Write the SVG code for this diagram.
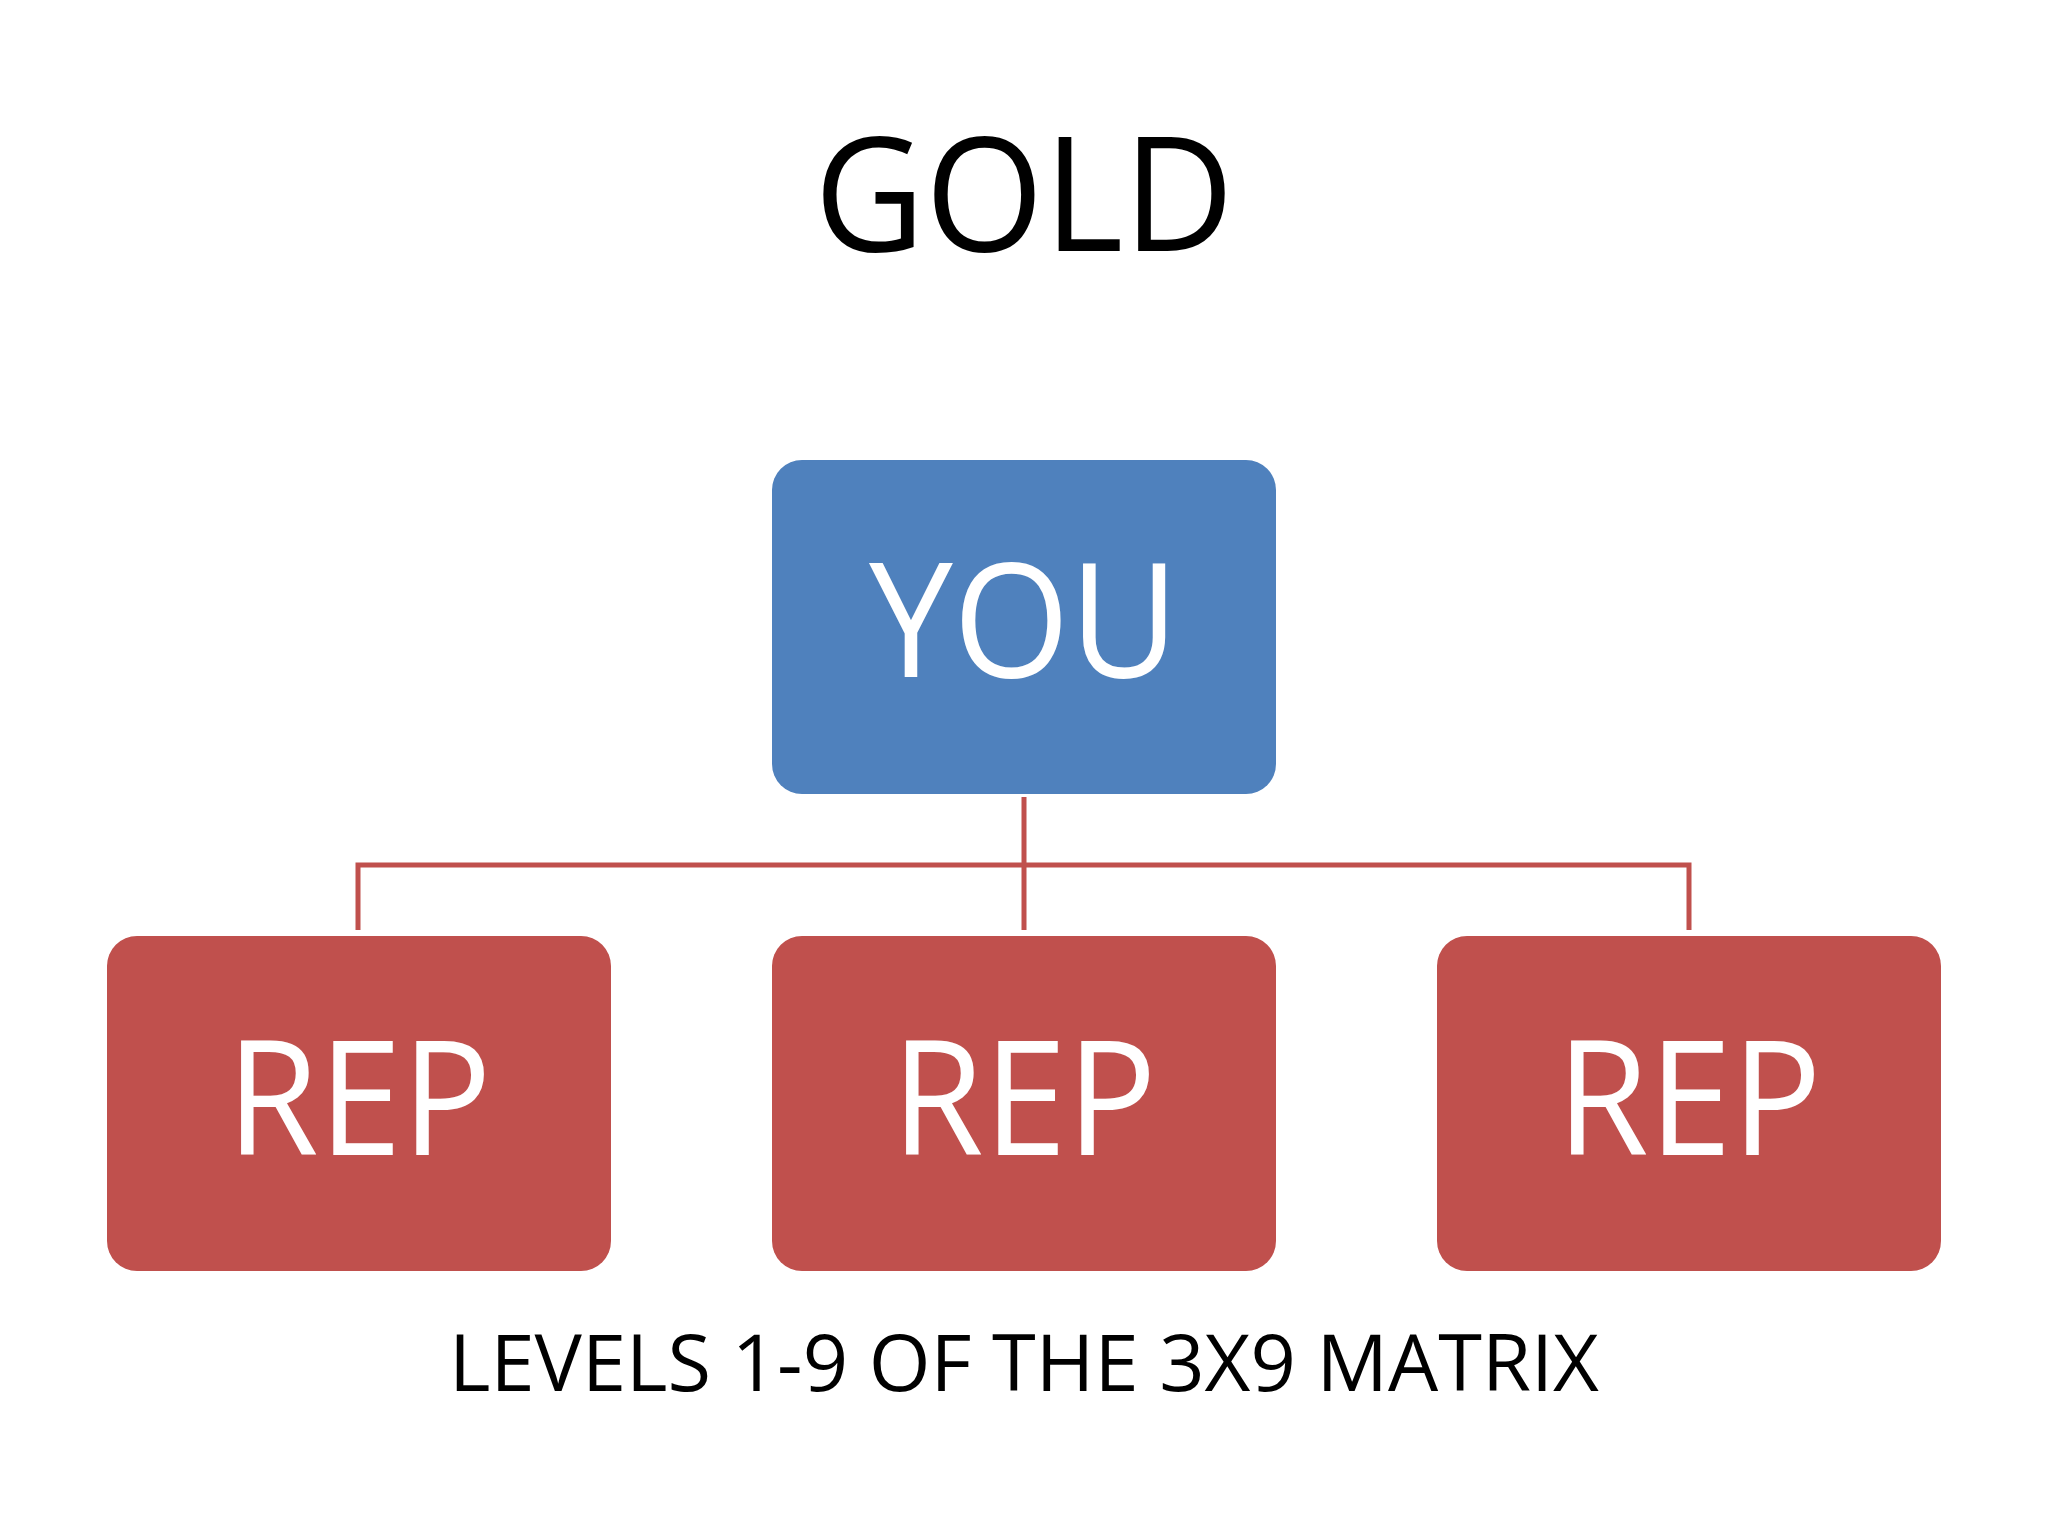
<svg xmlns="http://www.w3.org/2000/svg" width="2048" height="1536" viewBox="0 0 2048 1536">
<style>
.t{font-family:"Open Sans","Liberation Sans",sans-serif;text-anchor:middle}
.w{fill:#fff;font-size:160px}
.c{fill:none;stroke:#C0504D;stroke-width:5}
</style>
<rect width="2048" height="1536" fill="#fff"/>
<text class="t" x="1024" y="251" font-size="160" fill="#000" textLength="420" lengthAdjust="spacingAndGlyphs">GOLD</text>
<g id="connectors">
<path class="c" d="M1024 797V930M358 930V865H1689V930"/>
</g>
<g id="you"><rect x="772" y="460" width="504" height="334" rx="30" fill="#4F81BD"/><text class="t w" x="1024" y="677" textLength="310" lengthAdjust="spacingAndGlyphs">YOU</text></g>
<g id="rep1"><rect x="107" y="936" width="504" height="335" rx="30" fill="#C0504D"/><text class="t w" x="359" y="1155" textLength="265" lengthAdjust="spacingAndGlyphs">REP</text></g>
<g id="rep2"><rect x="772" y="936" width="504" height="335" rx="30" fill="#C0504D"/><text class="t w" x="1024" y="1155" textLength="265" lengthAdjust="spacingAndGlyphs">REP</text></g>
<g id="rep3"><rect x="1437" y="936" width="504" height="335" rx="30" fill="#C0504D"/><text class="t w" x="1689" y="1155" textLength="265" lengthAdjust="spacingAndGlyphs">REP</text></g>
<text class="t" x="1024" y="1391" font-size="78" fill="#000" textLength="1150" lengthAdjust="spacingAndGlyphs">LEVELS 1-9 OF THE 3X9 MATRIX</text>
</svg>
